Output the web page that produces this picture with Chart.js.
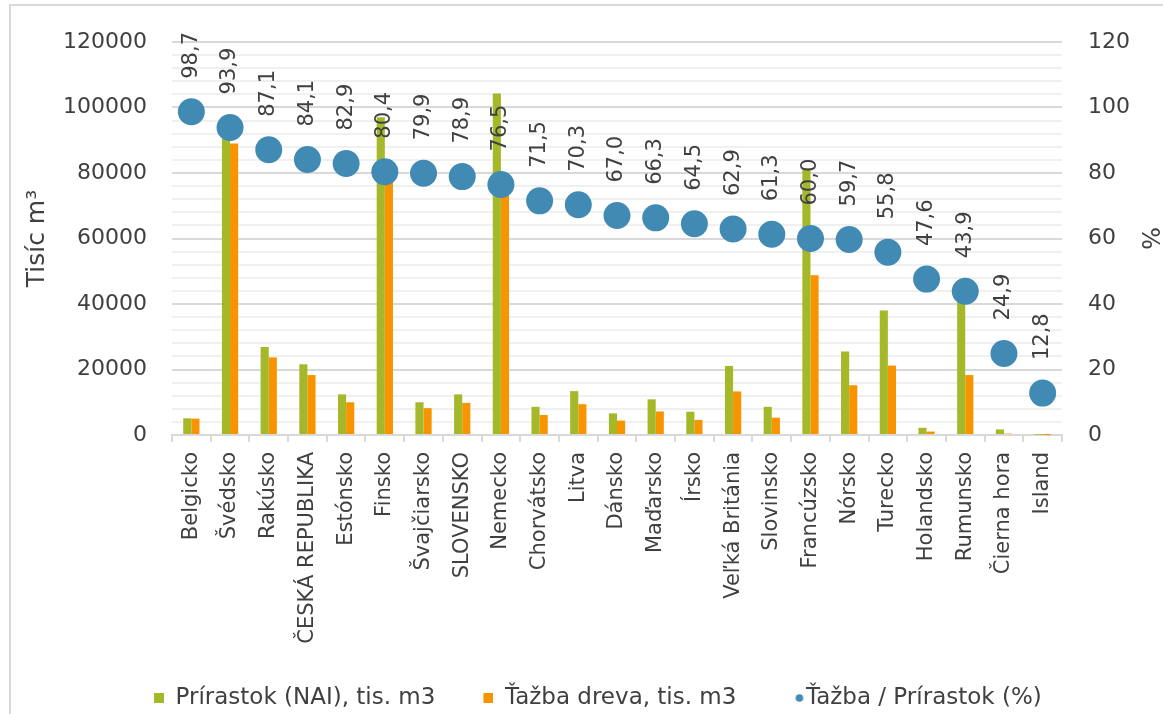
<!DOCTYPE html>
<html>
<head>
<meta charset="utf-8">
<script src="https://cdn.jsdelivr.net/npm/chart.js@4.4.1/dist/chart.umd.min.js"></script>
<style>
html,body{margin:0;padding:0;background:#fff;}
#wrap{position:relative;width:1163px;height:714px;overflow:hidden;}
#frame{position:absolute;left:9px;top:4px;width:1300px;height:900px;border-left:2px solid #d9d9d9;border-top:2px solid #d9d9d9;}
#c{position:absolute;left:0;top:0;}
</style>
</head>
<body>
<div id="wrap"><div id="frame"></div><canvas id="c" width="1163" height="714"></canvas></div>
<script>
const categories = ['Belgicko','Švédsko','Rakúsko','ČESKÁ REPUBLIKA','Estónsko','Finsko','Švajčiarsko','SLOVENSKO','Nemecko','Chorvátsko','Litva','Dánsko','Maďarsko','Írsko','Veľká Británia','Slovinsko','Francúzsko','Nórsko','Turecko','Holandsko','Rumunsko','Čierna hora','Island'];
const prirastok = [5100, 94800, 26900, 21600, 12400, 97000, 10000, 12400, 104300, 8600, 13400, 6600, 10900, 7100, 21100, 8600, 81400, 25500, 38000, 2200, 41700, 1700, 100];
const tazba = [5000, 89000, 23700, 18300, 10000, 78000, 8200, 9800, 79800, 6100, 9400, 4400, 7200, 4600, 13300, 5300, 48800, 15200, 21200, 1050, 18300, 420, 13];
const podiel = [98.7, 93.9, 87.1, 84.1, 82.9, 80.4, 79.9, 78.9, 76.5, 71.5, 70.3, 67.0, 66.3, 64.5, 62.9, 61.3, 60.0, 59.7, 55.8, 47.6, 43.9, 24.9, 12.8];
const seriesNames = ['Prírastok (NAI), tis. m3', 'Ťažba dreva, tis. m3', 'Ťažba / Prírastok (%)'];
const leftAxisTitle = 'Tisíc m³';
const rightAxisTitle = '%';

const GREEN = '#A5B829', ORANGE = '#F79400', BLUE = '#418AB3';
const FONT = 'DejaVu Sans';
const TXT = '#404040';
const LEGEND_SIZE = 23;

function squareIcon(color) {
  const c = document.createElement('canvas');
  c.width = 20; c.height = 10;
  const g = c.getContext('2d');
  g.fillStyle = color; g.fillRect(10, 0, 10, 10);
  return c;
}
function dotIcon(color) {
  const c = document.createElement('canvas');
  c.width = 52; c.height = 10;
  const g = c.getContext('2d');
  g.fillStyle = color; g.beginPath(); g.arc(41, 5, 3.8, 0, Math.PI * 2); g.fill();
  return c;
}
const icons = [squareIcon(GREEN), squareIcon(ORANGE), dotIcon(BLUE)];

const dataLabels = {
  id: 'dataLabels',
  afterDatasetsDraw(chart) {
    const meta = chart.getDatasetMeta(2);
    const ctx = chart.ctx;
    ctx.save();
    ctx.font = '21px "' + FONT + '"';
    ctx.fillStyle = TXT;
    ctx.textAlign = 'left';
    ctx.textBaseline = 'middle';
    meta.data.forEach((pt, i) => {
      ctx.save();
      ctx.translate(pt.x, pt.y - 33);
      ctx.rotate(-Math.PI / 2);
      ctx.fillText(podiel[i].toFixed(1).replace('.', ','), 0, 0);
      ctx.restore();
    });
    ctx.restore();
  }
};

const legendPlace = {
  id: 'legendPlace',
  afterLayout(chart) {
    const lg = chart.legend;
    const pad = lg.options.labels.padding;
    lg.left = 144 - pad;
    lg.right = 1600;
    lg.top = 698 - pad - LEGEND_SIZE / 2;
    lg.bottom = lg.top + 200;
  }
};

new Chart(document.getElementById('c'), {
  data: {
    labels: categories,
    datasets: [
      { type: 'bar', label: seriesNames[0], data: prirastok, backgroundColor: GREEN, yAxisID: 'y', order: 2, categoryPercentage: 0.42, barPercentage: 1.0 },
      { type: 'bar', label: seriesNames[1], data: tazba, backgroundColor: ORANGE, yAxisID: 'y', order: 2, categoryPercentage: 0.42, barPercentage: 1.0 },
      { type: 'line', label: seriesNames[2], data: podiel, yAxisID: 'y1', order: 0, showLine: false,
        pointRadius: 13.5, pointHoverRadius: 13.5, pointBackgroundColor: BLUE, pointBorderWidth: 0, backgroundColor: BLUE, borderColor: BLUE }
    ]
  },
  options: {
    responsive: false,
    devicePixelRatio: 1,
    animation: false,
    events: [],
    layout: { padding: { top: 42, left: 0, right: 0, bottom: 0 } },
    plugins: {
      tooltip: { enabled: false },
      legend: {
        position: 'bottom',
        align: 'start',
        labels: {
          usePointStyle: true,
          pointStyleWidth: 20,
          boxWidth: 20,
          boxHeight: 10,
          padding: 38,
          color: TXT,
          font: { family: FONT, size: LEGEND_SIZE },
          generateLabels: (chart) => chart.data.datasets.map((ds, i) => ({
            text: ds.label, fillStyle: 'transparent', strokeStyle: 'transparent', lineWidth: 0,
            pointStyle: icons[i], datasetIndex: i, hidden: false, fontColor: TXT
          }))
        }
      }
    },
    scales: {
      x: {
        offset: true,
        grid: { display: true, offset: true, drawOnChartArea: false, drawTicks: true, tickLength: 7, color: '#d9d9d9', lineWidth: 2 },
        border: { display: true, color: '#d9d9d9', width: 2 },
        ticks: { autoSkip: false, maxRotation: 90, minRotation: 90, padding: 10, color: TXT, font: { family: FONT, size: 21 } },
        afterFit: (s) => { s.height = 208; }
      },
      y: {
        position: 'left',
        min: 0, max: 120000,
        ticks: { stepSize: 4000, autoSkip: false, padding: 25, color: TXT, font: { family: FONT, size: 22 },
          callback: (v) => (v % 20000 === 0 ? String(v) : '') },
        grid: { drawTicks: false, lineWidth: 2, color: (c) => (c.tick && c.tick.value % 20000 === 0 ? '#d9d9d9' : '#f0f0f0') },
        border: { display: false },
        title: { display: true, text: leftAxisTitle, color: TXT, font: { family: FONT, size: 25, lineHeight: 1.2 }, padding: { top: 22, bottom: 0 } },
        afterFit: (s) => { s.width = 172; }
      },
      y1: {
        position: 'right',
        min: 0, max: 120,
        ticks: { stepSize: 20, padding: 26, color: TXT, font: { family: FONT, size: 22 } },
        grid: { drawOnChartArea: false, drawTicks: false },
        border: { display: false },
        title: { display: true, text: rightAxisTitle, color: TXT, font: { family: FONT, size: 24, lineHeight: 1.2 }, padding: { top: 0, bottom: 0 } },
        afterFit: (s) => { s.width = 101; }
      }
    }
  },
  plugins: [dataLabels, legendPlace]
});
</script>
</body>
</html>
